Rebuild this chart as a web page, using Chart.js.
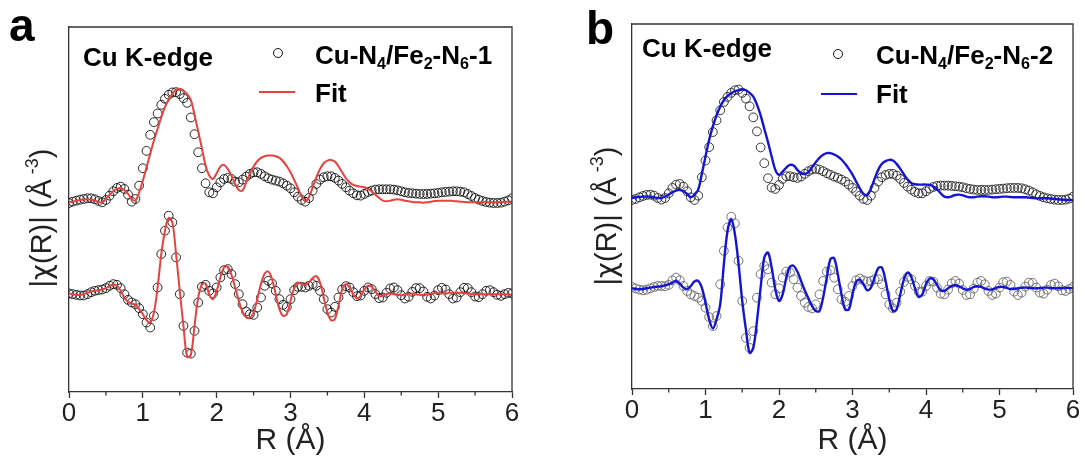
<!DOCTYPE html>
<html>
<head>
<meta charset="utf-8">
<script src="https://cdn.jsdelivr.net/npm/chart.js@4.4.1/dist/chart.umd.min.js"></script>
<style>
html, body { margin: 0; padding: 0; background: #fff; }
body { width: 1083px; height: 463px; position: relative; overflow: hidden;
       font-family: "Liberation Sans", Arial, sans-serif; color: #000; }
canvas { position: absolute; top: 0; }
.t { position: absolute; white-space: nowrap; font-weight: bold; line-height: 1; font-size: 26px; }
.panel { font-size: 46px; }
.t sub { font-size: 0.62em; vertical-align: -0.3em; line-height: 0; }
.yt { position: absolute; font-size: 29px; white-space: nowrap; line-height: 1; color: #222;
      transform: translate(-50%, -50%) rotate(-90deg); }
.yt sup { font-size: 0.62em; vertical-align: 0.7em; line-height: 0; }
.chi { font-family: "DejaVu Sans", sans-serif; font-size: 0.95em; }
.dot { position: absolute; width: 8px; height: 8px; border: 1px solid #111; border-radius: 50%; }
.ln { position: absolute; height: 2px; }
</style>
</head>
<body>
<canvas id="chartA" width="541" height="463" style="left:0"></canvas>
<canvas id="chartB" width="542" height="463" style="left:541px"></canvas>

<div class="t panel" style="left:9px;top:2px">a</div>
<div class="t" style="left:83px;top:44px">Cu K-edge</div>
<div class="dot" style="left:273px;top:48px"></div>
<div class="t" style="left:315px;top:42px">Cu-N<sub>4</sub>/Fe<sub>2</sub>-N<sub>6</sub>-1</div>
<div class="ln" style="left:259px;top:91px;width:36px;background:#e8413e"></div>
<div class="t" style="left:315px;top:80px">Fit</div>
<div class="yt" style="left:41px;top:218px">|<span class="chi">χ</span>(R)| (Å<sup> -3</sup>)</div>

<div class="t panel" style="left:586px;top:5px">b</div>
<div class="t" style="left:642px;top:35px">Cu K-edge</div>
<div class="dot" style="left:833px;top:49px"></div>
<div class="t" style="left:876px;top:42px">Cu-N<sub>4</sub>/Fe<sub>2</sub>-N<sub>6</sub>-2</div>
<div class="ln" style="left:821px;top:93px;width:36px;background:#1414d6"></div>
<div class="t" style="left:876px;top:81px">Fit</div>
<div class="yt" style="left:606px;top:216px">|<span class="chi">χ</span>(R)| (Å<sup> -3</sup>)</div>

<script>
// R grid (Å)
const R = [
  0, 0.05, 0.1, 0.15, 0.2, 0.25, 0.3, 0.35, 0.4, 0.45,
  0.5, 0.55, 0.6, 0.65, 0.7, 0.75, 0.8, 0.85, 0.9, 0.95,
  1, 1.05, 1.1, 1.15, 1.2, 1.25, 1.3, 1.35, 1.4, 1.45,
  1.5, 1.55, 1.6, 1.65, 1.7, 1.75, 1.8, 1.85, 1.9, 1.95,
  2, 2.05, 2.1, 2.15, 2.2, 2.25, 2.3, 2.35, 2.4, 2.45,
  2.5, 2.55, 2.6, 2.65, 2.7, 2.75, 2.8, 2.85, 2.9, 2.95,
  3, 3.05, 3.1, 3.15, 3.2, 3.25, 3.3, 3.35, 3.4, 3.45,
  3.5, 3.55, 3.6, 3.65, 3.7, 3.75, 3.8, 3.85, 3.9, 3.95,
  4, 4.05, 4.1, 4.15, 4.2, 4.25, 4.3, 4.35, 4.4, 4.45,
  4.5, 4.55, 4.6, 4.65, 4.7, 4.75, 4.8, 4.85, 4.9, 4.95,
  5, 5.05, 5.1, 5.15, 5.2, 5.25, 5.3, 5.35, 5.4, 5.45,
  5.5, 5.55, 5.6, 5.65, 5.7, 5.75, 5.8, 5.85, 5.9, 5.95,
  6
];
const xTicks = [0, 1, 2, 3, 4, 5, 6];

// Panel a: Cu-N4/Fe2-N6-1 (arbitrary offset units, magnitude above imaginary part)
const magDataA = [
  566, 570, 573, 576, 578, 580, 580, 577, 572, 568,
  575, 588, 601, 611, 615, 608, 591, 570, 578, 618,
  670, 722, 770, 808, 834, 860, 878, 890, 897, 898,
  892, 880, 866, 822, 772, 718, 670, 625, 598, 595,
  613, 628, 638, 641, 638, 630, 628, 636, 645, 653,
  658, 658, 653, 646, 640, 636, 633, 630, 625, 618,
  610, 598, 585, 575, 570, 581, 603, 623, 636, 643,
  646, 646, 641, 633, 623, 613, 603, 595, 589, 588,
  593, 599, 603, 606, 607, 607, 607, 607, 606, 604,
  601, 598, 596, 595, 594, 593, 593, 593, 594, 595,
  596, 598, 599, 600, 601, 601, 600, 598, 593, 587,
  581, 576, 572, 569, 567, 566, 566, 567, 570, 574,
  580
];
const magFitA = [
  568, 570, 573, 575, 576, 577, 576, 573, 569, 568,
  578, 590, 601, 608, 611, 605, 593, 578, 573, 598,
  633, 673, 713, 753, 788, 823, 853, 876, 893, 905,
  908, 903, 892, 875, 830, 780, 730, 678, 648, 638,
  655, 675, 680, 668, 648, 623, 605, 603, 628, 653,
  675, 691, 701, 706, 708, 708, 706, 701, 691, 676,
  658, 635, 611, 586, 571, 583, 613, 643, 668, 685,
  693, 695, 690, 676, 658, 640, 628, 620, 617, 615,
  613, 608, 601, 591, 581, 573, 571, 573, 576, 577,
  576, 573, 571, 569, 568, 568, 567, 568, 570, 572,
  573, 573, 573, 573, 572, 571, 570, 569, 568, 568,
  568, 568, 568, 568, 568, 568, 568, 568, 569, 570,
  570
];
const imDataA = [
  295, 293, 291, 289, 289, 293, 299, 303, 305, 307,
  311, 318, 323, 321, 311, 293, 276, 268, 263, 251,
  233, 208, 193, 228, 313, 413, 483, 528, 508, 403,
  293, 198, 118, 115, 183, 268, 315, 321, 303, 295,
  313, 343, 365, 368, 353, 323, 293, 263, 241, 233,
  231, 253, 283, 318, 333, 325, 303, 278, 261, 255,
  278, 305, 315, 315, 313, 318, 323, 318, 303, 278,
  248, 238, 255, 283, 307, 317, 313, 299, 287, 289,
  303, 313, 308, 293, 281, 283, 297, 310, 313, 305,
  290, 280, 285, 300, 311, 311, 301, 285, 280, 289,
  305, 312, 307, 293, 280, 283, 299, 312, 311, 299,
  286, 284, 293, 303, 305, 299, 291, 288, 293, 297,
  295
];
const imFitA = [
  295, 293, 291, 291, 293, 297, 301, 303, 305, 307,
  311, 317, 323, 318, 303, 283, 270, 265, 261, 248,
  233, 215, 208, 238, 313, 413, 483, 521, 508, 413,
  303, 198, 105, 111, 198, 283, 321, 325, 291, 278,
  303, 343, 373, 375, 351, 313, 273, 241, 223, 223,
  238, 278, 323, 355, 361, 338, 293, 248, 228, 233,
  273, 311, 328, 323, 321, 328, 341, 347, 328, 283,
  238, 215, 218, 258, 308, 323, 313, 293, 280, 288,
  307, 318, 315, 301, 287, 288, 293, 295, 293, 290,
  290, 292, 294, 295, 293, 291, 291, 293, 295, 296,
  296, 295, 295, 297, 297, 297, 297, 296, 295, 294,
  293, 293, 293, 293, 293, 293, 293, 293, 293, 292,
  291
];

// Panel b: Cu-N4/Fe2-N6-2
const magDataB = [
  565, 568, 573, 577, 580, 581, 578, 571, 566, 571,
  585, 601, 611, 613, 605, 591, 573, 565, 578, 633,
  683, 723, 768, 803, 833, 858, 873, 885, 893, 895,
  885, 868, 845, 812, 770, 722, 675, 630, 602, 598,
  610, 628, 636, 636, 633, 631, 635, 643, 651, 656,
  658, 656, 651, 645, 640, 635, 631, 626, 620, 611,
  601, 590, 578, 568, 565, 578, 601, 620, 633, 640,
  643, 643, 638, 628, 616, 605, 596, 589, 585, 585,
  591, 599, 604, 607, 608, 608, 608, 607, 606, 605,
  603, 600, 598, 596, 595, 595, 595, 595, 596, 597,
  598, 599, 600, 601, 601, 601, 600, 597, 593, 588,
  582, 577, 573, 570, 568, 566, 565, 565, 566, 569,
  575
];
const magFitB = [
  571, 573, 574, 575, 575, 575, 573, 571, 571, 575,
  581, 588, 593, 595, 591, 583, 573, 581, 595, 643,
  695, 745, 785, 818, 844, 863, 876, 884, 890, 893,
  895, 893, 885, 874, 850, 818, 778, 738, 695, 655,
  640, 650, 662, 670, 668, 655, 645, 643, 648, 663,
  678, 691, 700, 705, 705, 701, 695, 686, 673, 658,
  641, 620, 600, 583, 580, 598, 628, 655, 673, 681,
  685, 683, 673, 658, 641, 626, 616, 612, 611, 611,
  611, 610, 605, 597, 585, 575, 573, 576, 580, 581,
  579, 575, 573, 573, 575, 576, 576, 575, 573, 573,
  574, 575, 575, 574, 573, 573, 573, 573, 572, 571,
  570, 570, 570, 570, 569, 568, 567, 566, 565, 565,
  565
];
const imDataB = [
  305, 301, 297, 295, 297, 301, 305, 308, 308, 307,
  311, 325, 333, 325, 308, 293, 283, 278, 273, 263,
  243, 215, 188, 218, 313, 413, 483, 515, 495, 383,
  263, 153, 123, 173, 273, 343, 368, 358, 318, 283,
  301, 333, 351, 348, 328, 303, 278, 258, 245, 241,
  253, 283, 323, 351, 355, 333, 298, 268, 261, 278,
  308, 325, 330, 325, 321, 323, 328, 328, 313, 283,
  253, 241, 258, 291, 320, 335, 328, 308, 290, 291,
  308, 323, 321, 303, 285, 283, 297, 316, 323, 315,
  296, 281, 283, 300, 318, 323, 313, 293, 281, 285,
  303, 319, 321, 311, 291, 281, 288, 306, 318, 317,
  303, 288, 285, 297, 311, 315, 307, 295, 293, 299,
  305
];
const imFitB = [
  301, 299, 298, 299, 301, 303, 305, 306, 307, 310,
  313, 318, 323, 315, 303, 298, 308, 321, 323, 303,
  258, 208, 181, 208, 253, 373, 473, 508, 463, 373,
  263, 178, 108, 123, 203, 303, 393, 408, 363, 298,
  263, 283, 333, 366, 368, 351, 323, 295, 271, 248,
  233, 233, 273, 333, 388, 391, 343, 283, 238, 238,
  283, 321, 327, 313, 295, 303, 333, 361, 363, 323,
  268, 233, 238, 283, 328, 348, 335, 301, 275, 283,
  313, 330, 328, 311, 295, 293, 301, 308, 310, 307,
  301, 297, 299, 305, 307, 305, 300, 297, 298, 302,
  305, 305, 302, 299, 299, 301, 303, 303, 302, 301,
  301, 302, 303, 303, 302, 301, 301, 301, 302, 302,
  301
];

const AXIS = '#333';
const pts = ys => R.map((r, i) => ({ x: r, y: ys[i] }));

function circles(ys, color) {
    return {
        data: pts(ys), showLine: false, order: 1,
        pointStyle: 'circle', pointRadius: 4.4, pointBorderWidth: 0.9,
        pointBorderColor: color, pointBackgroundColor: 'rgba(0,0,0,0)'
    };
}

function fitLine(ys, color, width) {
    return {
        data: pts(ys), order: 0, borderColor: color, borderWidth: width,
        pointRadius: 0, tension: 0.35, fill: false
    };
}

// top/right frame and minor ticks
const frame = {
    id: 'frame',
    afterDraw(chart) {
        const { ctx, chartArea: a, scales: { x } } = chart;
        ctx.save();
        ctx.strokeStyle = AXIS;
        ctx.lineWidth = 1.3;
        ctx.beginPath();
        ctx.moveTo(a.left, a.top); ctx.lineTo(a.right, a.top); ctx.lineTo(a.right, a.bottom);
        for (let i = 0; i < xTicks.length - 1; i++) {
            const px = x.getPixelForValue(xTicks[i] + 0.5);
            ctx.moveTo(px, a.bottom); ctx.lineTo(px, a.bottom + 3.5);
        }
        ctx.stroke();
        ctx.restore();
    }
};

function makeChart(id, datasets, yMax, box) {
    return new Chart(document.getElementById(id), {
        type: 'line',
        data: { datasets },
        plugins: [frame],
        options: {
            responsive: false,
            animation: false,
            layout: { padding: { top: box.top, right: box.right, left: 0, bottom: 0 } },
            plugins: { legend: { display: false }, tooltip: { enabled: false } },
            scales: {
                x: {
                    type: 'linear', min: 0, max: 6,
                    afterBuildTicks: s => { s.ticks = xTicks.map(v => ({ value: v })); },
                    ticks: { color: '#222', padding: 0, font: { family: 'Liberation Sans', size: 26 } },
                    grid: { drawOnChartArea: false, drawTicks: true, tickLength: 6, tickColor: AXIS, tickWidth: 1.3 },
                    border: { color: AXIS, width: 1.3 },
                    title: { display: true, text: 'R (Å)', color: '#222', padding: { top: 0, bottom: 4 },
                             font: { family: 'Liberation Sans', size: 30 } },
                    afterFit: s => { s.height = 463 - box.bottom; }
                },
                y: {
                    type: 'linear', min: 0, max: yMax,
                    ticks: { display: false },
                    grid: { display: false },
                    border: { color: AXIS, width: 1.3 },
                    afterFit: s => { s.width = box.left; }
                }
            }
        }
    });
}

makeChart('chartA', [
    fitLine(magFitA, '#e8413e', 2),
    fitLine(imFitA, '#e8413e', 2),
    circles(magDataA, '#111'),
    circles(imDataA, '#111')
], 1093, { left: 69, right: 29, top: 27, bottom: 392 });

makeChart('chartB', [
    fitLine(magFitB, '#1414d6', 2.4),
    fitLine(imFitB, '#1414d6', 2.4),
    circles(magDataB, '#222'),
    circles(imDataB, '#666')
], 1091, { left: 91, right: 10, top: 24, bottom: 389 });
</script>
</body>
</html>
